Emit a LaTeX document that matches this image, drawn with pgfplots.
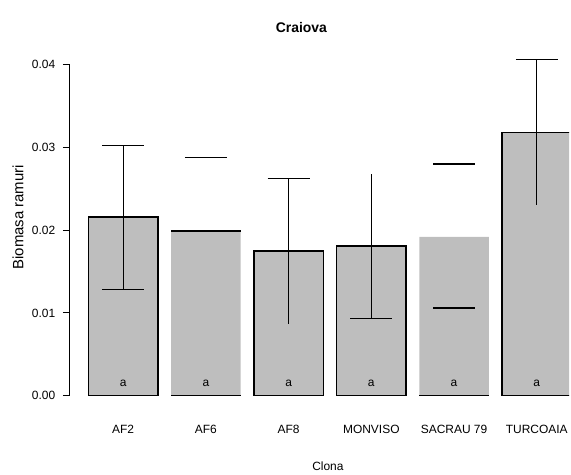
\documentclass[border=0pt]{standalone}
\usepackage{pgfplots}
\pgfplotsset{compat=1.18}
\usepackage{fontspec}
\setmainfont{Liberation Sans}
\definecolor{barfill}{RGB}{190,190,190}
\begin{document}
\begin{tikzpicture}
\begin{axis}[
  scale only axis,
  width=501pt, height=348.6pt,
  xmin=-0.645, xmax=5.39,
  ymin=0, ymax=0.042,
  axis lines*=left,
  x axis line style={draw=none},
  y axis line style={draw=none},
  tick align=outside,
  major tick length=7pt,
  scaled y ticks=false,
  xtick={0,1,2,3,4,5},
  xticklabels={AF2,AF6,AF8,MONVISO,SACRAU 79,TURCOAIA},
  xtick style={draw=none},
  ytick={0,0.01,0.02,0.03,0.04},
  yticklabels={0.00,0.01,0.02,0.03,0.04},
  ytick style={line width=1pt, black},
  /pgf/number format/assume math mode=true,
  tick label style={font=\fontsize{12}{14}\selectfont},
  xticklabel style={yshift=-19pt},
  yticklabel style={xshift=-4pt},
  title={\textbf{Craiova}},
  title style={at={(axis description cs:0.464,1.0413)}, anchor=center, font=\fontsize{14}{16}\selectfont},
  xlabel={Clona},
  xlabel style={at={(axis description cs:0.517,-0.2036)}, anchor=center, font=\fontsize{12}{14}\selectfont},
  ylabel={\fontsize{15}{17}\selectfont Biomasa ramuri},
  every axis y label/.style={at={(axis description cs:-0.1038,0.5135)}, rotate=90, anchor=center},
]
% bars with full border
\addplot[ybar, bar width=0.84, bar shift=0pt, fill=barfill, draw=black, line width=1.4pt]
  coordinates {(0,0.0216) (2,0.0175) (3,0.0181) (5,0.0318)};
% bars without side borders
\addplot[ybar, bar width=0.84, bar shift=0pt, fill=barfill, draw=none]
  coordinates {(1,0.0199) (4,0.0192)};
% partial borders (AF6 top and bottom, SACRAU 79 bottom)
\addplot[black, line width=1.4pt, unbounded coords=jump]
  coordinates {(0.58,0.0199) (1.42,0.0199) (1,nan) (0.58,0) (1.42,0) (4,nan) (3.58,0) (4.42,0)};
% error bar stems
\addplot[black, line width=1.2pt, unbounded coords=jump]
  coordinates {(0,0.0128) (0,0.0302) (0,nan)
               (2,0.0087) (2,0.0263) (2,nan)
               (3,0.0093) (3,0.0268) (3,nan)
               (5,0.0231) (5,0.0406)};
% error bar caps
\addplot[black, line width=1.2pt, unbounded coords=jump]
  coordinates {(-0.253,0.0302) (0.253,0.0302) (0,nan)
               (-0.253,0.0128) (0.253,0.0128) (0,nan)
               (0.747,0.0288) (1.253,0.0288) (1,nan)
               (1.747,0.0263) (2.253,0.0263) (2,nan)
               (2.747,0.0093) (3.253,0.0093) (3,nan)
               (3.747,0.0280) (4.253,0.0280) (4,nan)
               (3.747,0.0106) (4.253,0.0106) (4,nan)
               (4.747,0.0406) (5.253,0.0406)};
% group letters
\addplot[draw=none, mark=none, nodes near coords={a},
  every node near coord/.style={anchor=center, font=\fontsize{12}{14}\selectfont}]
  coordinates {(0,0.00145) (1,0.00145) (2,0.00145) (3,0.00145) (4,0.00145) (5,0.00145)};
\end{axis}
\draw[line width=1pt] (current axis.south west) -- ++(0,332pt);
\path ([shift={(-70pt,-75pt)}]current axis.south west) rectangle ++(571pt,472pt);
\end{tikzpicture}
\end{document}
